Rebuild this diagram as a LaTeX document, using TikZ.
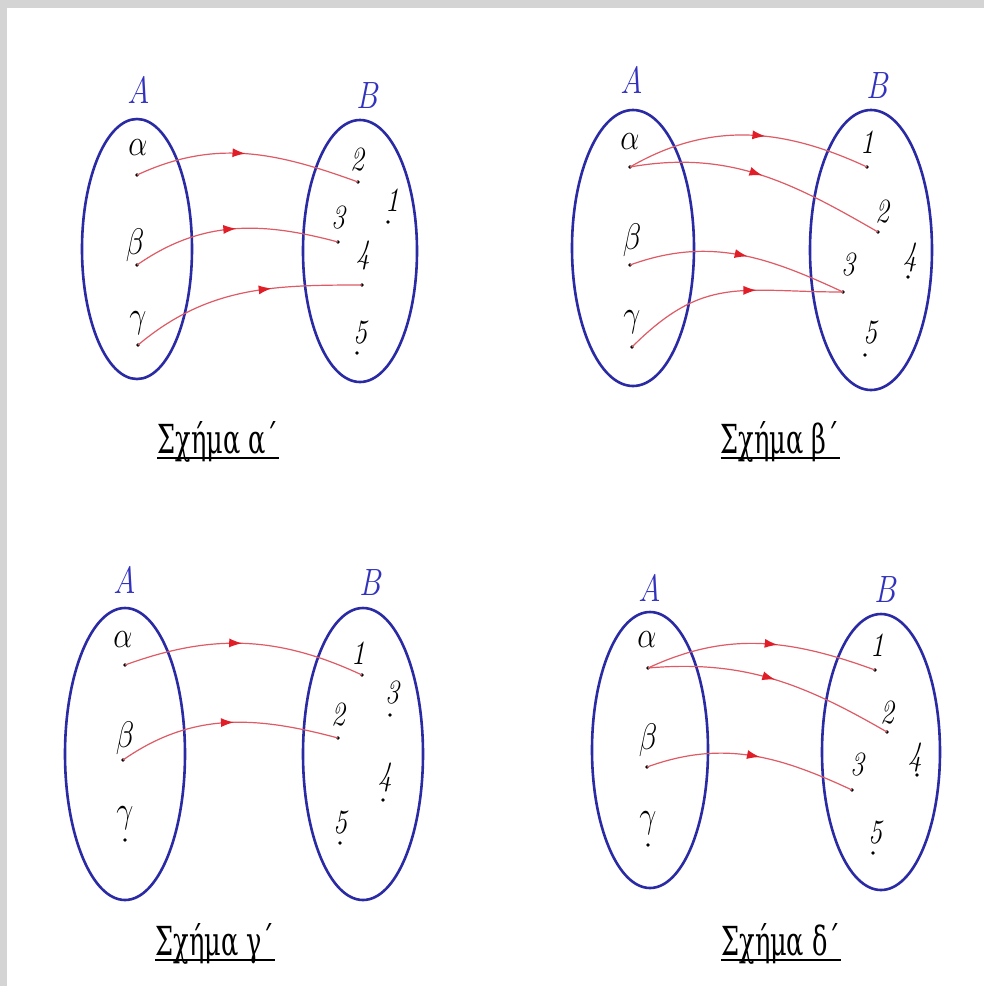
\RequirePackage{fix-cm}
\documentclass[tikz,border=0pt]{standalone}
\usepackage{fontspec}
\usepackage{graphicx}
\newfontfamily\capfont{DejaVu Serif}
\newcommand{\nx}[1]{\scalebox{0.82}[1]{#1}}
\newcommand{\cx}[1]{\scalebox{0.64}[1]{#1}}
\usetikzlibrary{arrows.meta,decorations.markings}
\definecolor{setblue}{RGB}{42,42,165}
\definecolor{lblue}{RGB}{50,50,190}
\definecolor{arrline}{RGB}{222,90,100}
\definecolor{arrtip}{RGB}{225,30,40}
\definecolor{frameg}{RGB}{212,212,212}
\tikzset{
  setell/.style={draw=setblue,line width=2.6pt},
  setlab/.style={text=lblue,font=\fontsize{38}{38}\selectfont\itshape,inner sep=0pt},
  elem/.style={text=black,font=\fontsize{34}{34}\selectfont\itshape,inner sep=0pt},
  grk/.style={text=black,font=\fontsize{37}{37}\selectfont,inner sep=0pt},
  dotn/.style={circle,fill=black,inner sep=0pt,minimum size=3.6pt},
  capt/.style={font=\capfont\fontsize{40}{40}\selectfont,inner sep=0pt,anchor=base},
  capline/.style={line width=1.8pt,black},
  maparrow/.style={draw=arrline,line width=1.2pt,postaction={decorate},
    decoration={markings,mark=at position #1 with {\arrow{Latex[length=13pt,width=9pt,color=arrtip]}}}}
}
\begin{document}
\begin{tikzpicture}[x=1pt,y=1pt]
\useasboundingbox (0,0) rectangle (984,-986);
\fill[white] (0,0) rectangle (984,-986);
\fill[frameg] (0,0) rectangle (984,-8);
\fill[frameg] (0,0) rectangle (7,-986);

% ---------------- Panel alpha ----------------
\draw[setell] (137,-249) ellipse [x radius=55, y radius=130];
\draw[setell] (360,-251) ellipse [x radius=57, y radius=131];
\node[setlab] (pA1) at (139,-90) {\nx{A}};
\node[setlab] (pB1) at (367,-96) {\nx{B}};
\node[grk] (ta1) at (138,-148) {\nx{$\alpha$}};
\node[grk] (tb1) at (135,-245) {\nx{$\beta$}};
\node[grk] (tc1) at (138,-323) {\nx{$\gamma$}};
\node[dotn] (da1) at (137,-175) {};
\node[dotn] (db1) at (137,-265) {};
\node[dotn] (dc1) at (138,-345) {};
\node[elem] (t21) at (357,-160) {\nx{2}};
\node[elem] (t11) at (392,-200) {\nx{1}};
\node[elem] (t31) at (338,-218) {\nx{3}};
\node[elem] (t41) at (363,-255) {\nx{4}};
\node[elem] (t51) at (360,-333) {\nx{5}};
\node[dotn] (d21) at (358,-182) {};
\node[dotn] (d11) at (388,-222) {};
\node[dotn] (d31) at (338,-242) {};
\node[dotn] (d41) at (362,-285) {};
\node[dotn] (d51) at (357,-353) {};
\draw[maparrow=0.49] (da1.center) to[out=25,in=160] (d21.center);
\draw[maparrow=0.51] (db1.center) to[out=35,in=165] (d31.center);
\draw[maparrow=0.62] (dc1.center) to[out=40,in=180] (d41.center);
\node[capt] (cap1) at (218,-453) {\cx{Σχήμα α΄}};
\draw[capline] ([yshift=-5pt]cap1.base west) -- ([yshift=-5pt]cap1.base east);

% ---------------- Panel beta ----------------
\draw[setell] (633,-248) ellipse [x radius=61, y radius=138];
\draw[setell] (871,-250) ellipse [x radius=61, y radius=140];
\node[setlab] (pA2) at (632,-80) {\nx{A}};
\node[setlab] (pB2) at (877,-86) {\nx{B}};
\node[grk] (ta2) at (630,-142) {\nx{$\alpha$}};
\node[grk] (tb2) at (632,-240) {\nx{$\beta$}};
\node[grk] (tc2) at (632,-322) {\nx{$\gamma$}};
\node[dotn] (da2) at (630,-167) {};
\node[dotn] (db2) at (630,-265) {};
\node[dotn] (dc2) at (632,-347) {};
\node[elem] (t12) at (867,-142) {\nx{1}};
\node[elem] (t22) at (882,-212) {\nx{2}};
\node[elem] (t42) at (910,-257) {\nx{4}};
\node[elem] (t32) at (848,-265) {\nx{3}};
\node[elem] (t52) at (870,-333) {\nx{5}};
\node[dotn] (d12) at (867,-167) {};
\node[dotn] (d22) at (878,-232) {};
\node[dotn] (d42) at (908,-277) {};
\node[dotn] (d32) at (843,-292) {};
\node[dotn] (d52) at (865,-355) {};
\draw[maparrow=0.57] (da2.center) to[out=30,in=155] (d12.center);
\draw[maparrow=0.51] (da2.center) to[out=10,in=150] (d22.center);
\draw[maparrow=0.54] (db2.center) to[out=20,in=155] (d32.center);
\draw[maparrow=0.62] (dc2.center) to[out=45,in=180,looseness=1.2] (d32.center);
\node[capt] (cap2) at (780,-453) {\cx{Σχήμα β΄}};
\draw[capline] ([yshift=-5pt]cap2.base west) -- ([yshift=-5pt]cap2.base east);

% ---------------- Panel gamma ----------------
\draw[setell] (125,-754) ellipse [x radius=60, y radius=146];
\draw[setell] (363,-754) ellipse [x radius=60, y radius=146];
\node[setlab] (pA3) at (125,-580) {\nx{A}};
\node[setlab] (pB3) at (370,-583) {\nx{B}};
\node[grk] (ta3) at (123,-640) {\nx{$\alpha$}};
\node[grk] (tb3) at (125,-738) {\nx{$\beta$}};
\node[grk] (tc3) at (125,-818) {\nx{$\gamma$}};
\node[dotn] (da3) at (125,-665) {};
\node[dotn] (db3) at (123,-760) {};
\node[dotn] (dc3) at (125,-840) {};
\node[elem] (t13) at (358,-653) {\nx{1}};
\node[elem] (t33) at (392,-693) {\nx{3}};
\node[elem] (t23) at (338,-715) {\nx{2}};
\node[elem] (t43) at (385,-777) {\nx{4}};
\node[elem] (t53) at (340,-823) {\nx{5}};
\node[dotn] (d13) at (362,-675) {};
\node[dotn] (d33) at (390,-715) {};
\node[dotn] (d23) at (338,-738) {};
\node[dotn] (d43) at (383,-800) {};
\node[dotn] (d53) at (340,-843) {};
\draw[maparrow=0.49] (da3.center) to[out=20,in=155] (d13.center);
\draw[maparrow=0.53] (db3.center) to[out=35,in=165] (d23.center);
\node[capt] (cap3) at (215,-955) {\cx{Σχήμα γ΄}};
\draw[capline] ([yshift=-5pt]cap3.base west) -- ([yshift=-5pt]cap3.base east);

% ---------------- Panel delta ----------------
\draw[setell] (650,-750) ellipse [x radius=58, y radius=138];
\draw[setell] (881,-752) ellipse [x radius=59, y radius=138];
\node[setlab] (pA4) at (650,-588) {\nx{A}};
\node[setlab] (pB4) at (885,-590) {\nx{B}};
\node[grk] (ta4) at (647,-640) {\nx{$\alpha$}};
\node[grk] (tb4) at (648,-740) {\nx{$\beta$}};
\node[grk] (tc4) at (648,-823) {\nx{$\gamma$}};
\node[dotn] (da4) at (648,-668) {};
\node[dotn] (db4) at (647,-767) {};
\node[dotn] (dc4) at (648,-845) {};
\node[elem] (t14) at (877,-645) {\nx{1}};
\node[elem] (t24) at (887,-713) {\nx{2}};
\node[elem] (t44) at (915,-757) {\nx{4}};
\node[elem] (t34) at (857,-765) {\nx{3}};
\node[elem] (t54) at (875,-833) {\nx{5}};
\node[dotn] (d14) at (875,-670) {};
\node[dotn] (d24) at (887,-732) {};
\node[dotn] (d44) at (917,-775) {};
\node[dotn] (d34) at (852,-790) {};
\node[dotn] (d54) at (873,-853) {};
\draw[maparrow=0.57] (da4.center) to[out=25,in=160] (d14.center);
\draw[maparrow=0.51] (da4.center) to[out=5,in=150] (d24.center);
\draw[maparrow=0.54] (db4.center) to[out=20,in=155] (d34.center);
\node[capt] (cap4) at (781,-955) {\cx{Σχήμα δ΄}};
\draw[capline] ([yshift=-5pt]cap4.base west) -- ([yshift=-5pt]cap4.base east);
\end{tikzpicture}
\end{document}
